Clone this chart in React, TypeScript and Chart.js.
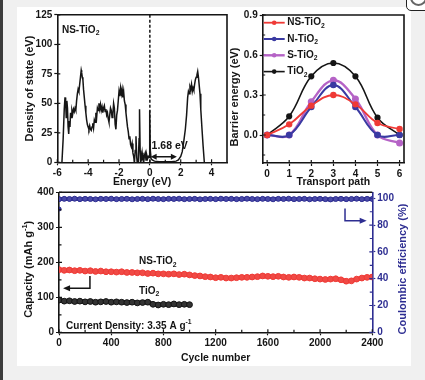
import React, { useEffect, useRef } from 'react';
import { Chart, registerables } from 'chart.js';

Chart.register(...registerables);

const FONT = 'Arial, "Liberation Sans", Helvetica, sans-serif';
const INK = '#151515';
const BLUE = '#2e2e92';
const RED = '#ef3a36';
const VIOLET = '#b563c6';
const NAVY = '#3a3aa2';

// ---------- Panel (a): density of states of NS-TiO2 ----------
const dosEnergy = [
  -5.7, -5.62, -5.55, -5.5, -5.46, -5.42, -5.38, -5.34, -5.3, -5.26, -5.22, -5.18, -5.14, -5.1, -5.05, -5.0,
  -4.95, -4.9, -4.85, -4.8, -4.75, -4.7, -4.65, -4.6, -4.55, -4.5, -4.45, -4.42, -4.38, -4.34, -4.3, -4.25,
  -4.2, -4.15, -4.1, -4.05, -4.0, -3.95, -3.9, -3.85, -3.8, -3.75, -3.7, -3.65, -3.6, -3.55, -3.5, -3.45,
  -3.4, -3.35, -3.3, -3.25, -3.2, -3.15, -3.1, -3.05, -3.0, -2.95, -2.9, -2.85, -2.8, -2.75, -2.7, -2.65,
  -2.6, -2.55, -2.5, -2.45, -2.4, -2.35, -2.3, -2.25, -2.2, -2.15, -2.1, -2.05, -2.0, -1.95, -1.9, -1.85,
  -1.8, -1.75, -1.7, -1.65, -1.6, -1.55, -1.5, -1.45, -1.4, -1.35, -1.3, -1.25, -1.2, -1.15, -1.1, -1.05,
  -1.0, -0.95, -0.9, -0.85, -0.82, -0.75, -0.7, -0.67, -0.63, -0.6, -0.55, -0.5, -0.45, -0.4, -0.35, -0.3,
  -0.25, -0.2, -0.15, -0.1, -0.05, -0.02, 0.0, 0.03, 0.08, 0.15, 0.3, 0.6, 1.0, 1.4, 1.7, 1.85,
  2.0, 2.1, 2.2, 2.3, 2.38, 2.45, 2.5, 2.55, 2.6, 2.65, 2.7, 2.75, 2.8, 2.85, 2.9, 2.95,
  3.0, 3.05, 3.1, 3.15, 3.2, 3.25, 3.3, 3.38, 3.45, 3.53,
];
const dosValue = [
  0, 20, 45, 55, 50, 38, 52, 46, 30, 24, 35, 30, 42, 38, 44, 41,
  45, 43, 46, 44, 52, 58, 62, 60, 66, 72, 78, 76, 72, 70, 62, 55,
  48, 42, 36, 32, 30, 28, 31, 28, 27, 30, 33, 29, 36, 34, 42, 38,
  46, 44, 50, 45, 49, 44, 47, 42, 46, 48, 43, 45, 40, 42, 37, 34,
  40, 46, 44, 38, 41, 50, 46, 32, 28, 40, 44, 52, 60, 56, 63, 58,
  62, 55, 60, 52, 49, 42, 36, 30, 26, 20, 22, 15, 13, 16, 8, 5,
  0, 10, 22, 4, 0, 0, 20, 45, 10, 0, 2, 8, 2, 0, 6, 8,
  2, 6, 3, 5, 4, 20, 44, 10, 3, 2, 1, 0.5, 0.5, 0.5, 1, 2,
  5, 9, 18, 28, 40, 55, 60, 58, 64, 62, 66, 60, 63, 61, 66, 70,
  72, 74, 77, 72, 65, 58, 45, 28, 14, 0,
];
const dosXTicks = [-6, -4, -2, 0, 2, 4];
const dosXMinor = [-5, -3, -1, 1, 3];
const dosYTicks = [0, 25, 50, 75, 100, 125];
const bandGapText = '1.68 eV';
const bandGapFrom = 0.05;
const bandGapTo = 1.75;
const bandGapLevel = 4.7;

// ---------- Panel (b): Li-ion barrier energy ----------
const pathSteps = [0, 1, 2, 3, 4, 5, 6];
const barrierNS = [0, 0.08, 0.22, 0.3, 0.23, 0.09, 0.045];
const barrierN = [0, 0.0, 0.21, 0.375, 0.21, 0.0, 0.0];
const barrierS = [0, 0.0, 0.25, 0.41, 0.27, 0.0, -0.06];
const barrierTi = [0, 0.14, 0.44, 0.54, 0.44, 0.13, 0.0];
const barrierXTicks = [0, 1, 2, 3, 4, 5, 6];
const barrierYTicks = [0, 0.3, 0.6, 0.9];
const barrierYMinor = [-0.15, 0.15, 0.45, 0.75];

// ---------- Panel (c): cycling at 3.35 A/g ----------
const nsCycles = [
  0, 40, 80, 120, 160, 200, 240, 280, 320, 360, 400, 440, 480, 520, 560, 600,
  640, 680, 720, 760, 800, 840, 880, 920, 960, 1000, 1040, 1080, 1120, 1160, 1200, 1240,
  1280, 1320, 1360, 1400, 1440, 1480, 1520, 1560, 1600, 1640, 1680, 1720, 1760, 1800, 1840, 1880,
  1920, 1960, 2000, 2040, 2080, 2120, 2160, 2200, 2240, 2280, 2320, 2360, 2400,
];
const nsCapacity = [
  179, 177, 178, 176, 177, 175, 176, 174, 175, 173, 173, 172, 173, 171, 171, 170,
  170, 168, 169, 167, 167, 166, 167, 165, 166, 164, 162, 161, 159, 158, 156, 157,
  155, 155, 156, 157, 157, 158, 159, 161, 160, 159, 160, 158, 157, 158, 157, 155,
  155, 153, 152, 151, 152, 153, 150, 146, 147, 152, 155, 157, 158,
];
const tiCycles = [
  0, 40, 80, 120, 160, 200, 240, 280, 320, 360, 400, 440, 480, 520, 560, 600,
  640, 680, 720, 760, 800, 840, 880, 920, 960, 1000,
];
const tiCapacity = [
  92, 89, 90, 88, 89, 87, 88, 86, 87, 88, 86, 87, 86, 85, 86, 84,
  85, 86, 80, 78, 80, 79, 81, 79, 80, 79,
];
const ceValues = [
  99.4, 99.6, 99.5, 99.7, 99.4, 99.6, 99.5, 99.3, 99.6, 99.5, 99.7, 99.4, 99.5, 99.6, 99.3, 99.5,
  99.6, 99.4, 99.7, 99.5, 99.4, 99.6, 99.5, 99.7, 99.4, 99.5, 99.6, 99.3, 99.5, 99.6, 99.4, 99.7,
  99.5, 99.6, 99.4, 99.5, 99.7, 99.5, 99.4, 99.6, 99.5, 99.3, 99.6, 99.5, 99.7, 99.4, 99.5, 99.6,
  99.3, 99.5, 99.6, 99.4, 99.2, 99.5, 99.6, 99.4, 99.5, 99.7, 99.4, 99.6, 99.5,
];
const ceFirstCycle = [1];
const ceFirstValue = [92];
const cycleTicks = [0, 400, 800, 1200, 1600, 2000, 2400];
const cycleMinor = [200, 600, 1000, 1400, 1800, 2200];
const capTicks = [0, 100, 200, 300, 400];
const capMinor = [50, 150, 250, 350];
const ceTicks = [0, 20, 40, 60, 80, 100];
const ceMinor = [10, 30, 50, 70, 90];

// ---------- helpers ----------
type Seg = { t: string; s?: 'sub' | 'sup' };

function richText(
  ctx: CanvasRenderingContext2D, segs: Seg[], x: number, y: number, size: number,
  color: string, align: 'left' | 'center', rotate = 0,
) {
  ctx.save();
  ctx.translate(x, y);
  ctx.rotate(rotate);
  const main = `bold ${size}px ${FONT}`;
  const small = `bold ${Math.round(size * 0.68 * 10) / 10}px ${FONT}`;
  let w = 0;
  for (const sg of segs) { ctx.font = sg.s ? small : main; w += ctx.measureText(sg.t).width; }
  let cx = align === 'center' ? -w / 2 : 0;
  ctx.fillStyle = color;
  ctx.textBaseline = 'middle';
  ctx.textAlign = 'left';
  for (const sg of segs) {
    ctx.font = sg.s ? small : main;
    const dy = sg.s === 'sub' ? size * 0.32 : sg.s === 'sup' ? -size * 0.4 : 0;
    ctx.fillText(sg.t, cx, dy);
    cx += ctx.measureText(sg.t).width;
  }
  ctx.restore();
}

function arrowHead(ctx: CanvasRenderingContext2D, tx: number, ty: number, dx: number, dy: number, len = 6, hw = 3) {
  const px = -dy, py = dx;
  ctx.beginPath();
  ctx.moveTo(tx, ty);
  ctx.lineTo(tx - dx * len + px * hw, ty - dy * len + py * hw);
  ctx.lineTo(tx - dx * len - px * hw, ty - dy * len - py * hw);
  ctx.closePath();
  ctx.fill();
}

function drawInTicks(chart: any, id: string, values: number[], len: number, color: string) {
  const { ctx, chartArea: a } = chart;
  const s = chart.scales[id];
  ctx.save();
  ctx.strokeStyle = color;
  ctx.lineWidth = 1.2;
  ctx.beginPath();
  for (const v of values) {
    const p = s.getPixelForValue(v);
    if (s.isHorizontal()) { ctx.moveTo(p, a.bottom); ctx.lineTo(p, a.bottom - len); }
    else if (s.position === 'right') { ctx.moveTo(a.right, p); ctx.lineTo(a.right - len, p); }
    else { ctx.moveTo(a.left, p); ctx.lineTo(a.left + len, p); }
  }
  ctx.stroke();
  ctx.restore();
}

const tickFont = { family: FONT, size: 10, weight: 'bold' as const };

function axis(min: number, max: number, ticks: number[], size: number, horizontal: boolean, color = INK, fmt?: (v: number) => string, extra: any = {}) {
  return {
    type: 'linear' as const,
    min, max,
    afterBuildTicks: (s: any) => { s.ticks = ticks.map((v) => ({ value: v })); },
    afterFit: (s: any) => { if (horizontal) s.height = size; else s.width = size; },
    ticks: {
      font: tickFont, color, padding: 2, autoSkip: false, maxRotation: 0,
      callback: (v: any) => (fmt ? fmt(Number(v)) : String(v)),
    },
    grid: { display: true, drawOnChartArea: false, drawTicks: true, tickLength: 3, tickWidth: 1.2, tickColor: color },
    border: { display: true, color, width: 1.6 },
    ...extra,
  };
}

function frame(chart: any, right = true, color = INK) {
  const { ctx, chartArea: a } = chart;
  ctx.save();
  ctx.strokeStyle = color;
  ctx.lineWidth = 1.6;
  ctx.beginPath();
  ctx.moveTo(a.left, a.top);
  ctx.lineTo(a.right, a.top);
  if (right) ctx.lineTo(a.right, a.bottom);
  ctx.stroke();
  ctx.restore();
}

const pts = (xs: number[], ys: number[]) => ys.map((v, i) => ({ x: xs[i], y: v }));

const W = 425;
const H = 380;

export default function App() {
  const r1 = useRef<HTMLCanvasElement>(null);
  const r2 = useRef<HTMLCanvasElement>(null);
  const r3 = useRef<HTMLCanvasElement>(null);

  useEffect(() => {
    const charts: Chart[] = [];

    // ---- DOS chart ----
    charts.push(new Chart(r1.current!, {
      type: 'line',
      data: {
        datasets: [{
          data: pts(dosEnergy, dosValue), borderColor: INK, borderWidth: 1.5, pointRadius: 0, tension: 0,
        }],
      },
      options: {
        responsive: false, animation: false, devicePixelRatio: 1,
        layout: { padding: { left: 17.3, right: 198, top: 14.8, bottom: 192.7 } },
        plugins: { legend: { display: false }, tooltip: { enabled: false } },
        scales: {
          x: axis(-6, 5, dosXTicks, 25, true),
          y: axis(0, 125, dosYTicks, 40, false),
        },
      },
      plugins: [{
        id: 'dosDeco',
        afterDraw: (chart: any) => {
          const { ctx, chartArea: a, scales: { x, y } } = chart;
          frame(chart);
          drawInTicks(chart, 'x', dosXTicks, 3, INK);
          drawInTicks(chart, 'x', dosXMinor, 2.5, INK);
          drawInTicks(chart, 'y', dosYTicks, 3, INK);
          ctx.save();
          ctx.strokeStyle = INK;
          ctx.fillStyle = INK;
          ctx.lineWidth = 1.5;
          const x0 = x.getPixelForValue(0);
          ctx.setLineDash([3, 2]);
          ctx.beginPath();
          ctx.moveTo(x0, y.getPixelForValue(125));
          ctx.lineTo(x0, y.getPixelForValue(0));
          ctx.stroke();
          ctx.setLineDash([]);
          const ay = y.getPixelForValue(bandGapLevel);
          const ax1 = x.getPixelForValue(bandGapFrom);
          const ax2 = x.getPixelForValue(bandGapTo);
          ctx.beginPath();
          ctx.moveTo(ax1 + 4, ay);
          ctx.lineTo(ax2 - 4, ay);
          ctx.stroke();
          arrowHead(ctx, ax1, ay, -1, 0, 6, 3);
          arrowHead(ctx, ax2, ay, 1, 0, 6, 3);
          ctx.restore();
          richText(ctx, [{ t: bandGapText }], x.getPixelForValue(0.11), y.getPixelForValue(14), 10.5, INK, 'left');
          richText(ctx, [{ t: 'NS-TiO' }, { t: '2', s: 'sub' }], x.getPixelForValue(-5.7), y.getPixelForValue(112), 10, INK, 'left');
          richText(ctx, [{ t: 'Energy (eV)' }], (a.left + a.right) / 2, a.bottom + 20, 10.5, INK, 'center');
          richText(ctx, [{ t: 'Density of state (eV)' }], a.left - 27, (a.top + a.bottom) / 2, 11, INK, 'center', -Math.PI / 2);
        },
      }],
    } as any));

    // ---- Barrier chart ----
    const series = [
      { name: 'NS-TiO', data: barrierNS, color: RED, w: 1.8 },
      { name: 'N-TiO', data: barrierN, color: NAVY, w: 2 },
      { name: 'S-TiO', data: barrierS, color: VIOLET, w: 2.4 },
      { name: 'TiO', data: barrierTi, color: INK, w: 1.6 },
    ];
    charts.push(new Chart(r2.current!, {
      type: 'line',
      data: {
        datasets: series.map((s) => ({
          data: pts(pathSteps, s.data), borderColor: s.color, backgroundColor: s.color,
          borderWidth: s.w, pointRadius: 2.3, pointBackgroundColor: s.color, pointBorderColor: s.color,
          tension: 0.4, clip: false,
        })),
      },
      options: {
        responsive: false, animation: false, devicePixelRatio: 1,
        layout: { padding: { left: 222.7, right: 21, top: 15, bottom: 192 } },
        plugins: { legend: { display: false }, tooltip: { enabled: false } },
        scales: {
          x: axis(-0.2, 6.2, barrierXTicks, 25, true),
          y: axis(-0.21, 0.9, barrierYTicks, 40, false, INK, (v) => v.toFixed(1)),
        },
      },
      plugins: [{
        id: 'barrierDeco',
        afterDraw: (chart: any) => {
          const { ctx, chartArea: a } = chart;
          frame(chart);
          drawInTicks(chart, 'x', barrierXTicks, 3, INK);
          drawInTicks(chart, 'y', barrierYTicks, 3, INK);
          drawInTicks(chart, 'y', barrierYMinor, 2.5, INK);
          series.forEach((s, i) => {
            const yy = a.top + 7.7 + i * 16.3;
            ctx.save();
            ctx.strokeStyle = s.color;
            ctx.fillStyle = s.color;
            ctx.lineWidth = s.w;
            ctx.beginPath();
            ctx.moveTo(a.left + 1, yy);
            ctx.lineTo(a.left + 22, yy);
            ctx.stroke();
            ctx.beginPath();
            ctx.arc(a.left + 11.5, yy, 2.3, 0, Math.PI * 2);
            ctx.fill();
            ctx.restore();
            richText(ctx, [{ t: s.name }, { t: '2', s: 'sub' }], a.left + 24.5, yy, 10, INK, 'left');
          });
          richText(ctx, [{ t: 'Transport path' }], (a.left + a.right) / 2, a.bottom + 19.5, 10.5, INK, 'center');
          richText(ctx, [{ t: 'Barrier energy (eV)' }], a.left - 27.5, (a.top + a.bottom) / 2 + 8, 11, INK, 'center', -Math.PI / 2);
        },
      }],
    } as any));

    // ---- Cycling chart ----
    charts.push(new Chart(r3.current!, {
      type: 'line',
      data: {
        datasets: [
          {
            data: pts(nsCycles, ceValues), yAxisID: 'y1', borderColor: BLUE, borderWidth: 4,
            pointRadius: 2.5, pointBackgroundColor: '#4a4aa8', pointBorderColor: BLUE, pointBorderWidth: 1, tension: 0,
          },
          {
            data: pts(ceFirstCycle, ceFirstValue), yAxisID: 'y1', borderColor: BLUE, showLine: false,
            pointRadius: 2, pointBackgroundColor: BLUE, pointBorderColor: BLUE,
          },
          {
            data: pts(nsCycles, nsCapacity), yAxisID: 'y', borderColor: RED, borderWidth: 4.5,
            pointRadius: 2.9, pointBackgroundColor: '#f04a45', pointBorderColor: RED, pointBorderWidth: 1, tension: 0,
          },
          {
            data: pts(tiCycles, tiCapacity), yAxisID: 'y', borderColor: INK, borderWidth: 4.5,
            pointRadius: 2.9, pointBackgroundColor: '#333', pointBorderColor: INK, pointBorderWidth: 1, tension: 0,
          },
        ],
      },
      options: {
        responsive: false, animation: false, devicePixelRatio: 1,
        layout: { padding: { left: 19, right: 22.7, top: 192.3, bottom: 22.7 } },
        plugins: { legend: { display: false }, tooltip: { enabled: false } },
        scales: {
          x: axis(0, 2400, cycleTicks, 25, true),
          y: axis(0, 400, capTicks, 40, false),
          y1: axis(0, 104.5, ceTicks, 30, false, BLUE, undefined, { position: 'right' }),
        },
      },
      plugins: [{
        id: 'cycleDeco',
        afterDraw: (chart: any) => {
          const { ctx, chartArea: a, scales: { x, y, y1 } } = chart;
          frame(chart, false);
          drawInTicks(chart, 'x', cycleTicks, 3, INK);
          drawInTicks(chart, 'x', cycleMinor, 2.5, INK);
          drawInTicks(chart, 'y', capTicks, 3, INK);
          drawInTicks(chart, 'y', capMinor, 2.5, INK);
          drawInTicks(chart, 'y1', ceTicks, 3, BLUE);
          drawInTicks(chart, 'y1', ceMinor, 2.5, BLUE);
          ctx.save();
          ctx.strokeStyle = INK; ctx.fillStyle = INK; ctx.lineWidth = 1.5;
          const nx = x.getPixelForValue(237);
          const ny1 = y.getPixelForValue(161);
          const ny2 = y.getPixelForValue(126);
          const nxe = x.getPixelForValue(31);
          ctx.beginPath(); ctx.moveTo(nx, ny1); ctx.lineTo(nx, ny2); ctx.lineTo(nxe + 5, ny2); ctx.stroke();
          arrowHead(ctx, nxe, ny2, -1, 0, 7, 3);
          ctx.strokeStyle = BLUE; ctx.fillStyle = BLUE;
          const cx = x.getPixelForValue(2191);
          const cy1 = y1.getPixelForValue(92.5);
          const cy2 = y1.getPixelForValue(83.3);
          const cxe = x.getPixelForValue(2357);
          ctx.beginPath(); ctx.moveTo(cx, cy1); ctx.lineTo(cx, cy2); ctx.lineTo(cxe - 5, cy2); ctx.stroke();
          arrowHead(ctx, cxe, cy2, 1, 0, 7, 3);
          ctx.restore();
          richText(ctx, [{ t: 'NS-TiO' }, { t: '2', s: 'sub' }], x.getPixelForValue(613), y.getPixelForValue(202), 10, INK, 'left');
          richText(ctx, [{ t: 'TiO' }, { t: '2', s: 'sub' }], x.getPixelForValue(613), y.getPixelForValue(118), 10, INK, 'left');
          richText(ctx, [{ t: 'Current Density: 3.35 A g' }, { t: '-1', s: 'sup' }], x.getPixelForValue(54), y.getPixelForValue(18), 10, INK, 'left');
          richText(ctx, [{ t: 'Cycle number' }], (a.left + a.right) / 2, a.bottom + 25.4, 10.5, INK, 'center');
          richText(ctx, [{ t: 'Capacity (mAh g' }, { t: '-1', s: 'sup' }, { t: ')' }], a.left - 30, (a.top + a.bottom) / 2 + 7, 11, INK, 'center', -Math.PI / 2);
          richText(ctx, [{ t: 'Coulombic efficiency (%)' }], a.right + 30.4, (a.top + a.bottom) / 2 + 6.7, 11, BLUE, 'center', -Math.PI / 2);
        },
      }],
    } as any));

    return () => { charts.forEach((c) => c.destroy()); };
  }, []);

  const cv: React.CSSProperties = { position: 'absolute', left: 0, top: 0, width: W, height: H };
  return (
    <div style={{ position: 'fixed', left: 0, top: 0, width: W, height: H, background: '#f0f0f0', overflow: 'hidden' }}>
      <div style={{ position: 'absolute', left: 0, top: 0, width: 3, height: H, background: '#3c3c3c' }} />
      <div style={{ position: 'absolute', left: 17, top: 7, width: 394, height: 359, background: '#ffffff' }} />
      <div style={{ position: 'absolute', left: 406, top: -8, width: 30, height: 17, border: '1.5px solid #222', borderRadius: 5, background: '#fff' }}>
        <div style={{ position: 'absolute', left: 3, top: -4, width: 13, height: 13, border: '2px solid #666', borderRadius: '50%' }} />
      </div>
      <canvas ref={r1} width={W} height={H} style={cv} />
      <canvas ref={r2} width={W} height={H} style={cv} />
      <canvas ref={r3} width={W} height={H} style={cv} />
    </div>
  );
}
